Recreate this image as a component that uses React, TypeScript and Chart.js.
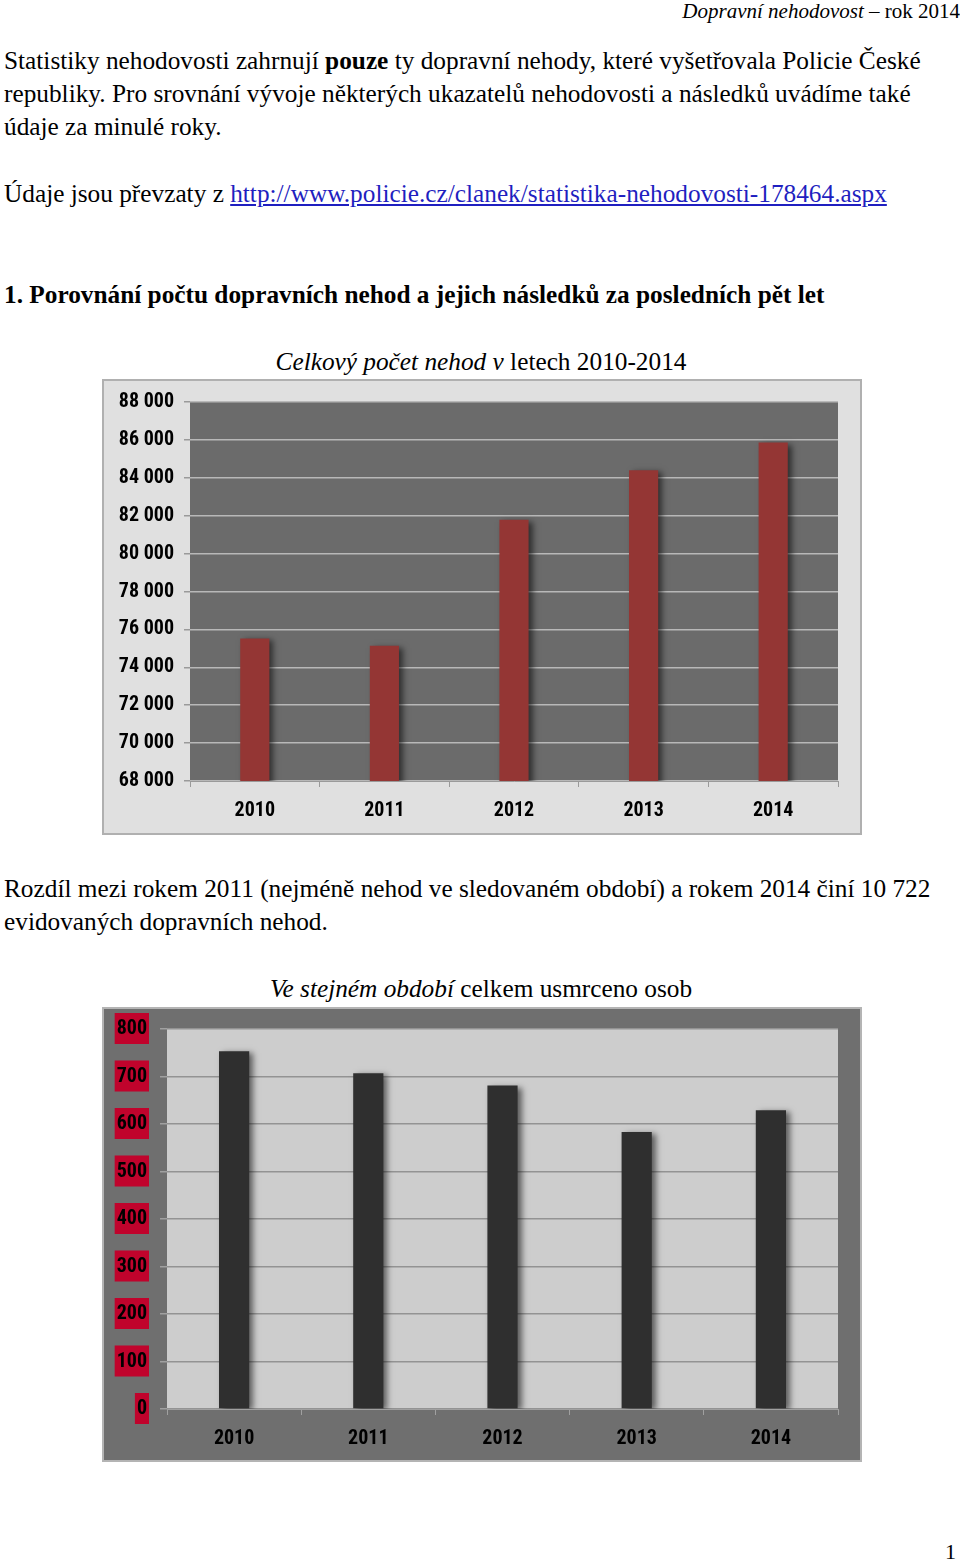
import React, { useEffect, useRef } from "react";
import { Chart, registerables } from "chart.js";
Chart.register(...registerables);

// ---- data ----
const years = ["2010", "2011", "2012", "2013", "2014"];
const accidents = [75522, 75137, 81780, 84398, 85859];
const deaths = [753, 707, 681, 583, 629];
const accidentAxis = [68000, 88000, 2000]; // min, max, step
const deathAxis = [0, 800, 100];

const LABEL_FONT = '"Liberation Sans Narrow", "Roboto Condensed", "Liberation Sans", sans-serif';

const fmt = (v: number) => String(v).replace(/\B(?=(\d{3})+(?!\d))/g, " ");

const plotBg = (color: string) => ({
  id: "plotBg",
  beforeDraw(chart: any) {
    const { ctx, chartArea: a } = chart;
    ctx.save();
    ctx.fillStyle = color;
    ctx.fillRect(a.left, a.top, a.right - a.left, a.bottom - a.top);
    ctx.restore();
  },
});

const shadow = {
  id: "barShadow",
  beforeDatasetsDraw(chart: any) {
    const ctx = chart.ctx;
    ctx.save();
    ctx.shadowColor = "rgba(0,0,0,0.55)";
    ctx.shadowOffsetX = 4;
    ctx.shadowOffsetY = 2;
    ctx.shadowBlur = 6;
  },
  afterDatasetsDraw(chart: any) {
    chart.ctx.restore();
  },
};

function BarChart(props: {
  width: number;
  height: number;
  data: number[];
  axis: number[];
  barColor: string;
  plotColor: string;
  gridColor: string;
  tickColor: string;
  yWidth: number;
  xHeight: number;
  padTop: number;
  padRight: number;
  yTickLen: number;
  yPad: number;
  backdrop?: string;
  yFormat: (v: number) => string;
}) {
  const ref = useRef<HTMLCanvasElement>(null);
  useEffect(() => {
    const p = props;
    const chart = new Chart(ref.current!, {
      type: "bar",
      data: {
        labels: years,
        datasets: [
          {
            data: p.data,
            backgroundColor: p.barColor,
            borderWidth: 0,
            barPercentage: 1,
            categoryPercentage: 0.225,
          },
        ],
      },
      options: {
        animation: false,
        responsive: false,
        events: [],
        layout: { padding: { top: p.padTop, right: p.padRight, left: 0, bottom: 0 } },
        plugins: { legend: { display: false }, title: { display: false }, tooltip: { enabled: false } },
        scales: {
          x: {
            afterFit: (s: any) => {
              s.height = p.xHeight;
              s.paddingLeft = 0;
              s.paddingRight = 0;
            },
            grid: {
              drawOnChartArea: false,
              drawTicks: true,
              tickLength: 6,
              color: p.tickColor,
            },
            border: { display: true, color: p.tickColor, width: 1 },
            ticks: {
              color: "#000",
              padding: 12,
              font: { family: LABEL_FONT, size: 20, weight: "bold" },
            },
          },
          y: {
            min: p.axis[0],
            max: p.axis[1],
            afterFit: (s: any) => {
              s.width = p.yWidth;
              s.paddingTop = 0;
              s.paddingBottom = 0;
            },
            grid: {
              color: p.gridColor,
              lineWidth: 1.5,
              tickLength: p.yTickLen,
              tickColor: p.tickColor,
            },
            border: { display: false },
            ticks: {
              stepSize: p.axis[2],
              color: "#000",
              padding: p.yPad,
              font: { family: LABEL_FONT, size: 20, weight: "bold" },
              callback: (v: any) => p.yFormat(Number(v)),
              showLabelBackdrop: !!p.backdrop,
              backdropColor: p.backdrop || "transparent",
              backdropPadding: { left: 2, right: 2, top: 4, bottom: 3 },
            },
          },
        },
      },
      plugins: [plotBg(p.plotColor), shadow],
    } as any);
    return () => chart.destroy();
  }, []);
  return <canvas ref={ref} width={props.width} height={props.height} style={{ display: "block" }} />;
}

const serif = '"Liberation Serif", "Times New Roman", serif';

function Line(props: { top: number; left?: number; right?: number; size?: number; children: any; style?: any }) {
  const s: any = {
    position: "absolute",
    top: props.top,
    whiteSpace: "nowrap",
    fontFamily: serif,
    fontSize: props.size || 25.3,
    lineHeight: "30px",
    color: "#000",
    ...props.style,
  };
  if (props.left !== undefined) s.left = props.left;
  if (props.right !== undefined) s.right = props.right;
  return <div style={s}>{props.children}</div>;
}

export default function App() {
  return (
    <div style={{ position: "absolute", left: 0, top: 0, width: 960, height: 1564, background: "#fff", overflow: "hidden" }}>
      <Line top={-4} right={0} size={21}>
        <i>Dopravní nehodovost</i> – rok 2014
      </Line>
      <Line top={45} left={4}>
        Statistiky nehodovosti zahrnují <b>pouze</b> ty dopravní nehody, které vyšetřovala Policie České
      </Line>
      <Line top={78} left={4}>
        republiky. Pro srovnání vývoje některých ukazatelů nehodovosti a následků uvádíme také
      </Line>
      <Line top={111} left={4}>
        údaje za minulé roky.
      </Line>
      <Line top={178} left={4}>
        Údaje jsou převzaty z{" "}
        <a href="#" style={{ color: "#1f1fc0", textDecoration: "underline" }}>
          http://www.policie.cz/clanek/statistika-nehodovosti-178464.aspx
        </a>
      </Line>
      <Line top={279} left={4} style={{ fontWeight: "bold" }}>
        1. Porovnání počtu dopravních nehod a jejich následků za posledních pět let
      </Line>
      <Line top={346} left={0} style={{ width: 962, textAlign: "center" }}>
        <i>Celkový počet nehod v</i> letech 2010-2014
      </Line>
      <div
        style={{
          position: "absolute",
          left: 102,
          top: 379,
          width: 760,
          height: 456,
          boxSizing: "border-box",
          border: "2px solid #b0b0b0",
          background: "#e0e0e0",
        }}
      >
        <BarChart
          width={756}
          height={452}
          data={accidents}
          axis={accidentAxis}
          barColor="#943634"
          plotColor="#6b6b6b"
          gridColor="#b8b8b8"
          tickColor="#9a9a9a"
          yWidth={86}
          xHeight={52}
          padTop={21}
          padRight={22}
          yTickLen={6}
          yPad={10}
          yFormat={fmt}
        />
      </div>
      <Line top={873} left={4}>
        Rozdíl mezi rokem 2011 (nejméně nehod ve sledovaném období) a rokem 2014 činí 10 722
      </Line>
      <Line top={906} left={4}>
        evidovaných dopravních nehod.
      </Line>
      <Line top={973} left={0} style={{ width: 962, textAlign: "center" }}>
        <i>Ve stejném období</i> celkem usmrceno osob
      </Line>
      <div
        style={{
          position: "absolute",
          left: 102,
          top: 1007,
          width: 760,
          height: 455,
          boxSizing: "border-box",
          border: "2px solid #b4b4b4",
          background: "#6f6f6f",
        }}
      >
        <BarChart
          width={756}
          height={451}
          data={deaths}
          axis={deathAxis}
          barColor="#2f2f2f"
          plotColor="#cdcdcd"
          gridColor="#939393"
          tickColor="#a0a0a0"
          yWidth={63}
          xHeight={51}
          padTop={20}
          padRight={22}
          yTickLen={7}
          yPad={13}
          backdrop="#c0032c"
          yFormat={(v) => String(v)}
        />
      </div>
      <Line top={1537} right={4} size={22}>
        1
      </Line>
    </div>
  );
}
